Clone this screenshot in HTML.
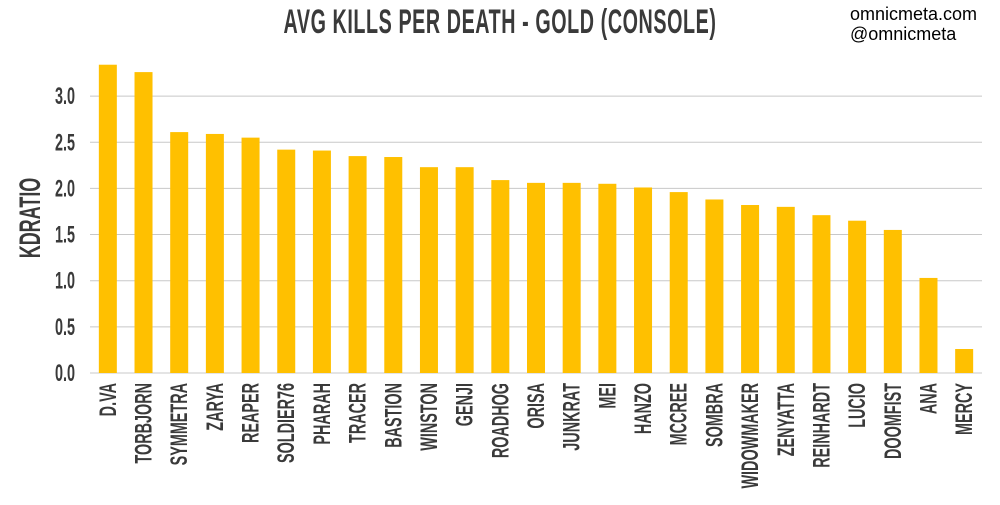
<!DOCTYPE html>
<html><head><meta charset="utf-8"><style>
body{margin:0;background:#fff;width:1000px;height:500px;overflow:hidden}
svg text{font-family:"Liberation Sans Narrow","Liberation Sans",sans-serif;}
</style></head><body>
<svg id="chart" width="1000" height="500" xmlns="http://www.w3.org/2000/svg">
<text x="500" y="33" text-anchor="middle" font-size="34" font-weight="bold" fill="#3a3a3a" transform="translate(500,0) scale(0.58,1) translate(-500,0)" style="letter-spacing:1px">AVG KILLS PER DEATH - GOLD (CONSOLE)</text>
<text x="850" y="20" font-size="18" fill="#000" style="font-family:'Liberation Sans',sans-serif">omnicmeta.com</text>
<text x="850" y="40" font-size="18" fill="#000" style="font-family:'Liberation Sans',sans-serif">@omnicmeta</text>
<text x="0" y="0" font-size="30" font-weight="bold" fill="#3a3a3a" text-anchor="middle" transform="translate(40,218) rotate(-90) scale(0.6,1)">KDRATIO</text>
<g id="grid"></g><g id="bars"></g><g id="labels"></g>
</svg>
<script>
const heroes=["D.VA","TORBJORN","SYMMETRA","ZARYA","REAPER","SOLDIER76","PHARAH","TRACER","BASTION","WINSTON","GENJI","ROADHOG","ORISA","JUNKRAT","MEI","HANZO","MCCREE","SOMBRA","WIDOWMAKER","ZENYATTA","REINHARDT","LUCIO","DOOMFIST","ANA","MERCY"];
const kd=[3.34,3.26,2.61,2.59,2.55,2.42,2.41,2.35,2.34,2.23,2.23,2.09,2.06,2.06,2.05,2.01,1.96,1.88,1.82,1.80,1.71,1.65,1.55,1.03,0.26];
const ticks=[0,0.5,1,1.5,2,2.5,3];
const tickLabels=["0.0","0.5","1.0","1.5","2.0","2.5","3.0"];
const NS="http://www.w3.org/2000/svg";
const y0=373,pxPer=92.3,x0=90,x1=982;
const yS=v=>y0-v*pxPer;
const step=(x1-x0)/heroes.length;
const xS=i=>x0+step*(i+0.5);
const grid=document.getElementById('grid'),bars=document.getElementById('bars'),labels=document.getElementById('labels');
function mk(t,a){const e=document.createElementNS(NS,t);for(const k in a)e.setAttribute(k,a[k]);return e;}
ticks.forEach((t,i)=>{
 const l=mk('line',{x1:x0,x2:x1,y1:yS(t),y2:yS(t),stroke:'#c8c8c8','stroke-width':1});
 
 
 grid.appendChild(l);
 const tx=mk('text',{x:0,y:0,'font-size':24,'font-weight':'bold',fill:'#3a3a3a','text-anchor':'end',transform:`translate(75,${yS(t)+8}) scale(0.6,1)`});
 tx.textContent=tickLabels[i];
 
 
 labels.appendChild(tx);
});
heroes.forEach((h,i)=>{
 const r=mk('rect',{x:xS(i)-9,y:yS(kd[i]),width:18,height:y0-yS(kd[i]),fill:'#FFC000'});
 
 
 bars.appendChild(r);
 const tx=mk('text',{x:0,y:0,'font-size':24,'font-weight':'bold',fill:'#3a3a3a','text-anchor':'end',transform:`translate(${xS(i)+8},383) rotate(-90) scale(0.6,1)`});
 tx.textContent=h;
 
 
 labels.appendChild(tx);
});
</script>
</body></html>
